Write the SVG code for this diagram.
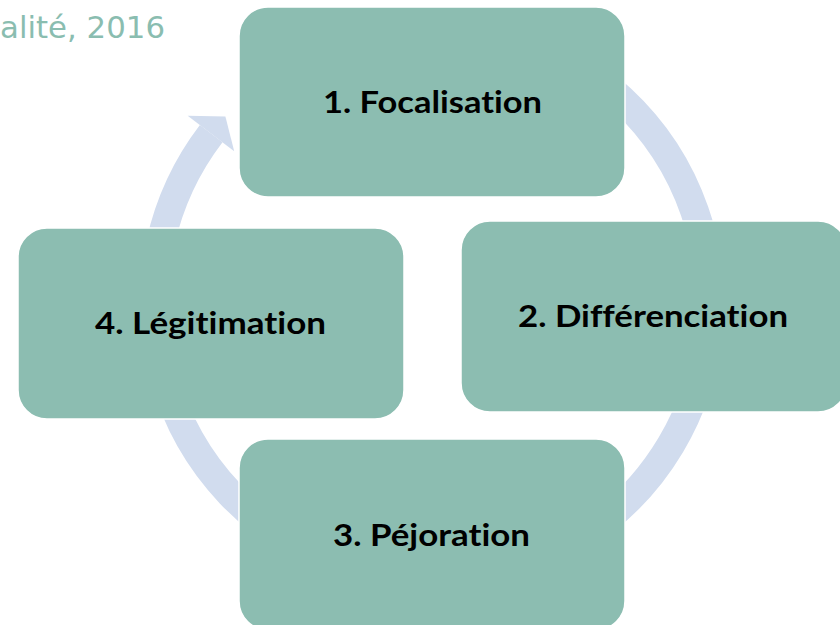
<svg xmlns="http://www.w3.org/2000/svg" width="840" height="625" viewBox="0 0 840 625">
  <style>
    .box { fill: #8cbdb1; stroke: #ffffff; stroke-width: 1.5; }
    .lbl { font-family: Lato, "Liberation Sans", sans-serif; font-weight: bold; font-size: 31px; fill: #000000; text-anchor: middle; font-variant-ligatures: none; }
    .ring { fill: none; stroke: #d1dcee; stroke-width: 28.5; }
    .head { fill: #d1dcee; }
    .title { font-family: "DejaVu Sans", sans-serif; font-size: 31px; fill: #8abdb0; text-anchor: end; }
  </style>
  <text class="title" x="165" y="38" textLength="165" lengthAdjust="spacingAndGlyphs">alité, 2016</text>
  <g id="connectors">
    <path class="ring" d="M 383.73 28.72 A 278 278 0 1 1 211.2 133.6"/>
    <polygon class="head" points="187.7,115.7 225.4,116.5 234.2,151.3"/>
  </g>
  <g id="node1">
    <rect class="box" x="239" y="7" width="386" height="190" rx="29" ry="29"/>
    <text class="lbl" x="432.5" y="113" textLength="219" lengthAdjust="spacingAndGlyphs">1. Focalisation</text>
  </g>
  <g id="node2">
    <rect class="box" x="461" y="221" width="386" height="191" rx="29" ry="29"/>
    <text class="lbl" x="653" y="327" textLength="270" lengthAdjust="spacingAndGlyphs">2. Différenciation</text>
  </g>
  <g id="node3">
    <rect class="box" x="239" y="439" width="386" height="191" rx="29" ry="29"/>
    <text class="lbl" x="431.5" y="546" textLength="197" lengthAdjust="spacingAndGlyphs">3. Péjoration</text>
  </g>
  <g id="node4">
    <rect class="box" x="18" y="228" width="386" height="191" rx="29" ry="29"/>
    <text class="lbl" x="210.5" y="334" textLength="231" lengthAdjust="spacingAndGlyphs">4. Légitimation</text>
  </g>
</svg>
